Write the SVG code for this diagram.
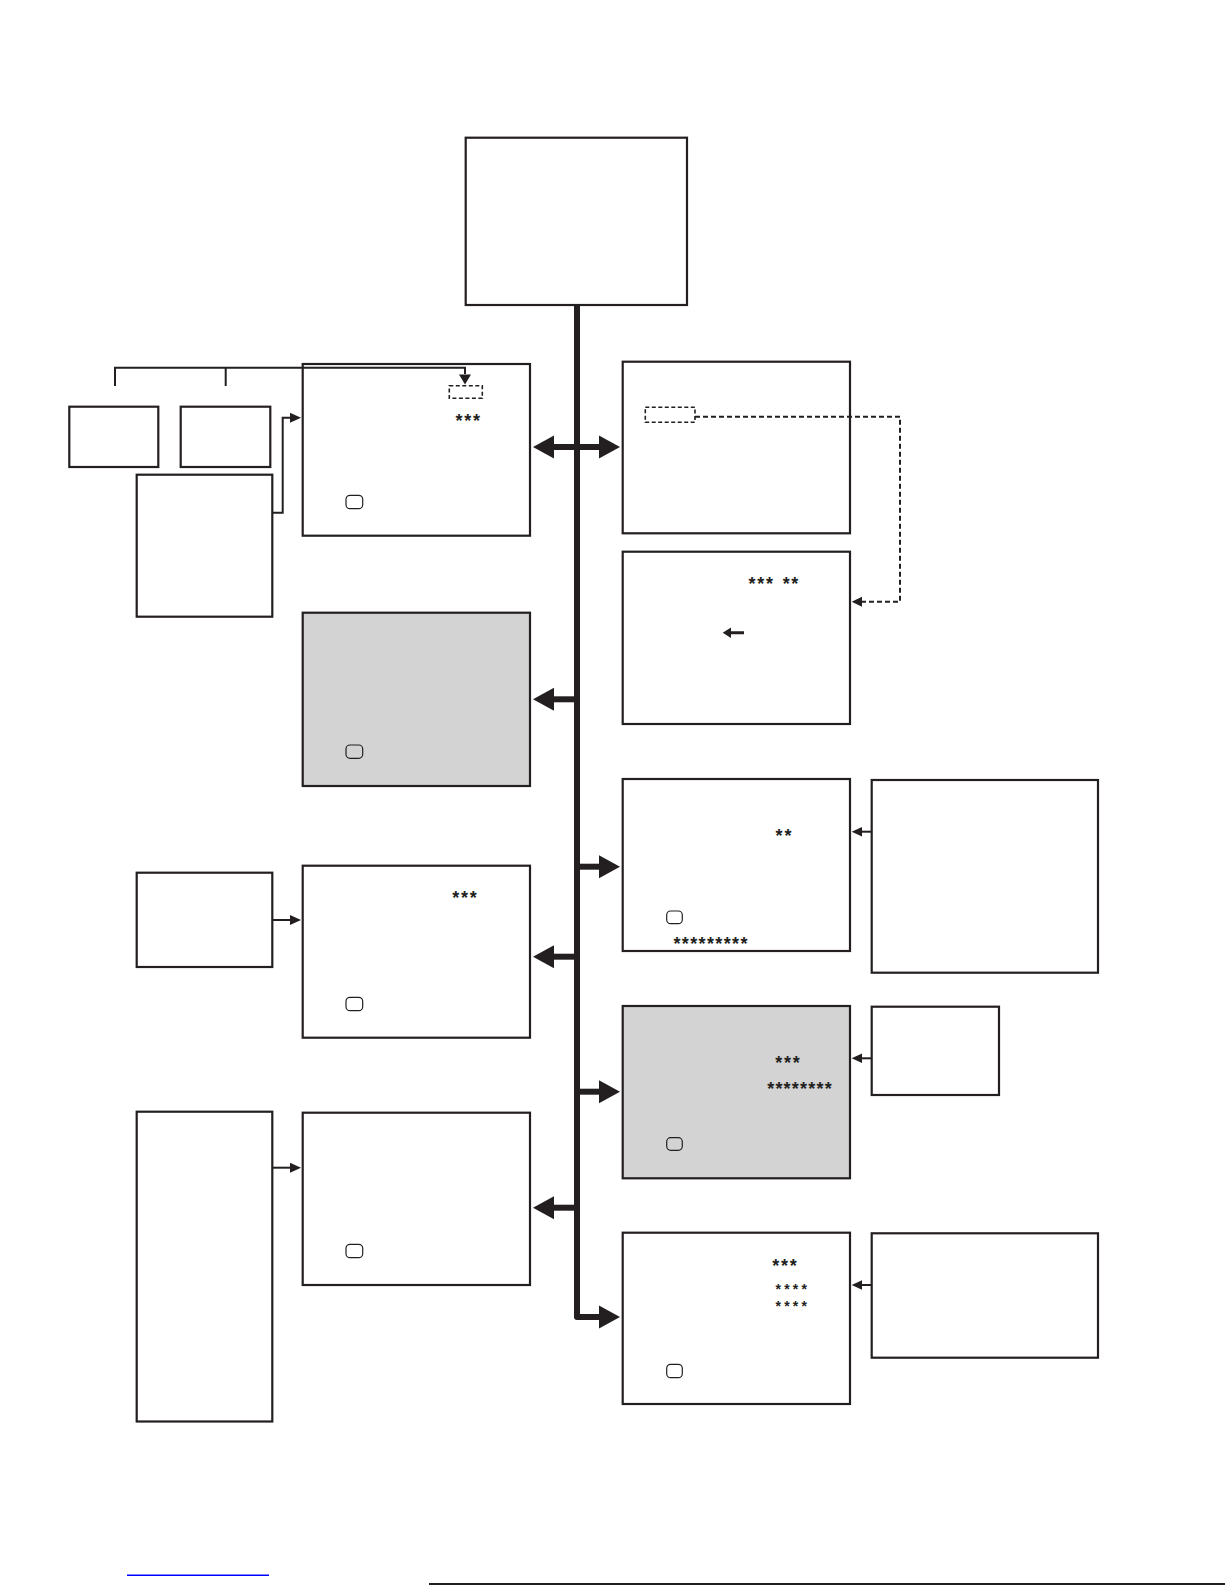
<svg xmlns="http://www.w3.org/2000/svg" width="1225" height="1585" viewBox="0 0 1225 1585">
<style>
.box{fill:#fff;stroke:#231f20;stroke-width:2.2}
.gray{fill:#d3d3d3;stroke:#231f20;stroke-width:2.2}
.key{fill:none;stroke:#231f20;stroke-width:1.2}
.st{font-family:"Liberation Sans",Arial,sans-serif;font-size:18px;font-weight:bold;fill:#231f20}
.sm{font-size:14px}
.ln{fill:none;stroke:#231f20;stroke-width:2}
.dash{fill:none;stroke:#231f20;stroke-width:2;stroke-dasharray:5 3}
.hd{fill:#231f20}
.thick{fill:none;stroke:#231f20;stroke-width:6;stroke-linejoin:round}
</style>
<rect width="1225" height="1585" fill="#fff"/>

<g id="top"><rect class="box" x="465.7" y="137.7" width="221.3" height="167.3"/></g>

<g id="left-small-1"><rect class="box" x="69.3" y="406.7" width="89" height="60.3"/></g>
<g id="left-small-2"><rect class="box" x="180.7" y="406.7" width="89.6" height="60.3"/></g>
<g id="left-tall-1"><rect class="box" x="136.7" y="474.7" width="135.6" height="142"/></g>

<g id="A">
  <rect class="box" x="302.7" y="364" width="227.3" height="171.7"/>
  <rect class="dash" x="449.3" y="385.7" width="33" height="12.6" style="stroke-width:1.6;stroke-dasharray:4 2.5"/>
  <text class="st" x="455.5" y="427.1" textLength="24.5" lengthAdjust="spacing">***</text>
  <rect class="key" x="346" y="495.3" width="16.7" height="13.4" rx="4"/>
</g>

<g id="B">
  <rect class="gray" x="302.7" y="612.7" width="227.3" height="173.3"/>
  <rect class="key" x="346" y="745" width="16.7" height="13.3" rx="4"/>
</g>

<g id="left-C"><rect class="box" x="136.7" y="872.7" width="135.6" height="94.3"/></g>
<g id="C">
  <rect class="box" x="302.7" y="865.7" width="227.3" height="172"/>
  <text class="st" x="452.2" y="904.4" textLength="24.5" lengthAdjust="spacing">***</text>
  <rect class="key" x="346" y="997.3" width="16.7" height="13.4" rx="4"/>
</g>

<g id="left-D"><rect class="box" x="136.7" y="1111.7" width="135.6" height="309.8"/></g>
<g id="D">
  <rect class="box" x="302.7" y="1112.7" width="227.3" height="172.3"/>
  <rect class="key" x="346" y="1244.3" width="16.7" height="13.4" rx="4"/>
</g>

<g id="R1">
  <rect class="box" x="622.7" y="361.7" width="227.3" height="171.6"/>
  <rect class="dash" x="645.3" y="407.3" width="49.7" height="15" style="stroke-width:1.6;stroke-dasharray:4 2.5"/>
</g>

<g id="R2">
  <rect class="box" x="622.7" y="551.7" width="227.3" height="172.3"/>
  <text class="st" x="748.5" y="590.4" textLength="24.5" lengthAdjust="spacing">***</text>
  <text class="st" x="782.8" y="590.4" textLength="15.5" lengthAdjust="spacing">**</text>
  <path class="hd" d="M722.7 632.7 L731 627.5 L731 631.2 L744 631.2 L744 634.2 L731 634.2 L731 637.9 Z"/>
</g>

<g id="R3">
  <rect class="box" x="622.7" y="779" width="227.3" height="172"/>
  <text class="st" x="775.5" y="842.1" textLength="16" lengthAdjust="spacing">**</text>
  <rect class="key" x="666.7" y="911" width="15.6" height="12.7" rx="4"/>
  <text class="st" x="673.5" y="950.4" textLength="74" lengthAdjust="spacing">*********</text>
</g>
<g id="R3b"><rect class="box" x="871.7" y="780" width="226.3" height="192.7"/></g>

<g id="R4">
  <rect class="gray" x="622.7" y="1006" width="227.3" height="172.3"/>
  <text class="st" x="775.2" y="1068.7" textLength="24.5" lengthAdjust="spacing">***</text>
  <text class="st" x="767.2" y="1095.4" textLength="64.5" lengthAdjust="spacing">********</text>
  <rect class="key" x="666.7" y="1137.7" width="15.6" height="12.6" rx="4"/>
</g>
<g id="R4b"><rect class="box" x="871.7" y="1006.7" width="127.3" height="88.3"/></g>

<g id="R5">
  <rect class="box" x="622.7" y="1232.7" width="227.3" height="171.3"/>
  <text class="st" x="772.2" y="1272.1" textLength="24.5" lengthAdjust="spacing">***</text>
  <text class="st sm" x="775.5" y="1294.4" textLength="31.5" lengthAdjust="spacing">****</text>
  <text class="st sm" x="775.5" y="1310.6" textLength="31.5" lengthAdjust="spacing">****</text>
  <rect class="key" x="666.7" y="1364.3" width="15.6" height="13.4" rx="4"/>
</g>
<g id="R5b"><rect class="box" x="871.7" y="1233.3" width="226.3" height="124.4"/></g>

<g id="connectors">
  <path class="thick" d="M577 304 V1317 H601"/>
  <path class="thick" d="M552 447 H601"/>
  <polygon class="hd" points="533,447 554,435.5 554,458.5"/>
  <polygon class="hd" points="620,447 599,435.5 599,458.5"/>
  <path class="thick" d="M577 699.3 H552"/>
  <polygon class="hd" points="533,699.3 554,687.8 554,710.8"/>
  <path class="thick" d="M577 956.7 H552"/>
  <polygon class="hd" points="533,956.7 554,945.2 554,968.2"/>
  <path class="thick" d="M577 1207.7 H552"/>
  <polygon class="hd" points="533,1207.7 554,1196.2 554,1219.2"/>
  <path class="thick" d="M577 866.7 H601"/>
  <polygon class="hd" points="620,866.7 599,855.2 599,878.2"/>
  <path class="thick" d="M577 1091.7 H601"/>
  <polygon class="hd" points="620,1091.7 599,1080.2 599,1103.2"/>
  <polygon class="hd" points="620,1317 599,1305.5 599,1328.5"/>

  <path class="ln" d="M115 386 V367.7 H465 V374"/>
  <line class="ln" x1="225.7" y1="367.7" x2="225.7" y2="386"/>
  <polygon class="hd" points="465,384.5 459,374.5 471,374.5"/>
  <path class="ln" d="M272.3 512.7 H282.7 V417.7 H291"/>
  <polygon class="hd" points="301,417.7 290,412.7 290,422.7"/>
  <path class="ln" d="M272.3 920 H290"/>
  <polygon class="hd" points="301,920 290,915 290,925"/>
  <path class="ln" d="M272.3 1167.7 H290"/>
  <polygon class="hd" points="301,1167.7 290,1162.7 290,1172.7"/>
  <path class="dash" d="M695 416.7 H900 V601.7 H862"/>
  <polygon class="hd" points="851.7,601.7 862,596.7 862,606.7"/>
  <path class="ln" d="M871.7 831.7 H861"/>
  <polygon class="hd" points="851.7,831.7 862,827 862,836.4"/>
  <path class="ln" d="M871.7 1058.3 H861"/>
  <polygon class="hd" points="851.7,1058.3 862,1053.6 862,1063"/>
  <path class="ln" d="M871.7 1285 H861"/>
  <polygon class="hd" points="851.7,1285 862,1280.3 862,1289.7"/>
</g>

<line x1="127" y1="1575.3" x2="269" y2="1575.3" stroke="#0000ff" stroke-width="1.5"/>
<line x1="429" y1="1584" x2="1225" y2="1584" stroke="#231f20" stroke-width="2"/>
</svg>
